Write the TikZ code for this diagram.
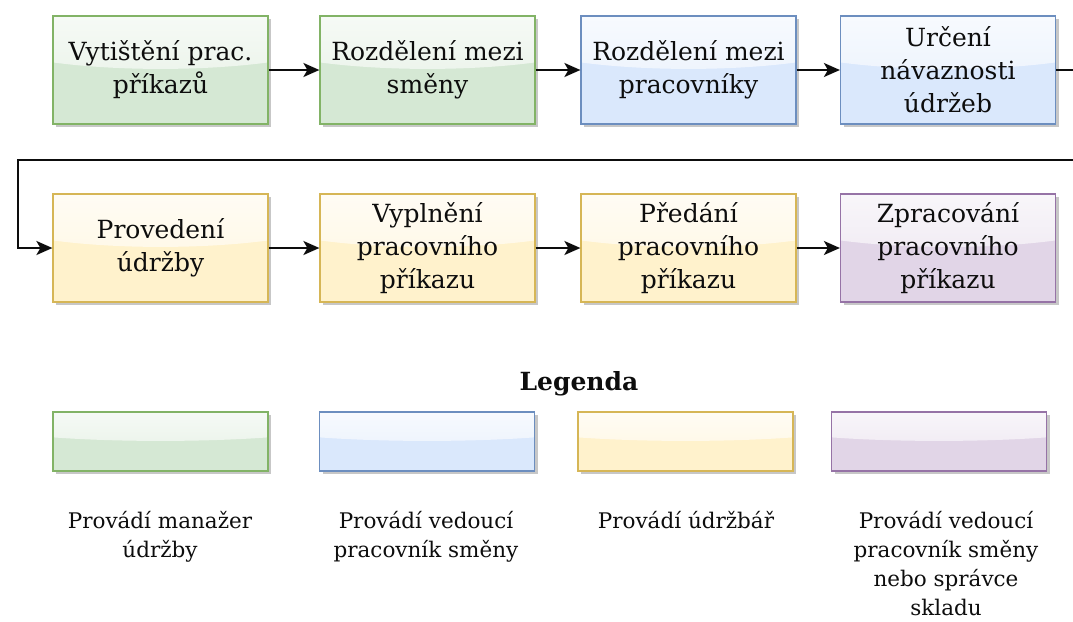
\documentclass[tikz,border=0pt]{standalone}
\usepackage{fontspec}
\newfontfamily\serifface{DejaVu Serif}
\usetikzlibrary{arrows.meta,shadows,fadings,calc}

\definecolor{greenFill}{HTML}{D5E8D4}\definecolor{greenLine}{HTML}{82B366}
\definecolor{blueFill}{HTML}{DAE8FC}\definecolor{blueLine}{HTML}{6C8EBF}
\definecolor{yellowFill}{HTML}{FFF2CC}\definecolor{yellowLine}{HTML}{D6B656}
\definecolor{purpleFill}{HTML}{E1D5E7}\definecolor{purpleLine}{HTML}{9673A6}
\definecolor{inkc}{HTML}{0D0D0D}

% white sheen over the upper part of every box
\tikzfading[name=glassfade, top color=transparent!20, bottom color=transparent!65]
\newcommand\glassoverlay{%
  \fill[white, path fading=glassfade]
    let \p1=(path picture bounding box.north west),
        \p2=(path picture bounding box.south east) in
    (\x1,\y1) -- (\x2,\y1) -- (\x2,{\y1+0.43*(\y2-\y1)})
    .. controls ({\x1+0.7*(\x2-\x1)},{\y1+0.51*(\y2-\y1)})
           and ({\x1+0.3*(\x2-\x1)},{\y1+0.51*(\y2-\y1)}) ..
    (\x1,{\y1+0.43*(\y2-\y1)}) -- cycle;}

\tikzset{
  glassbox/.style={draw=#1Line, fill=#1Fill, line width=1.2pt,
    minimum width=215pt, minimum height=108pt, inner sep=2pt,
    align=center, text=inkc,
    font=\serifface\fontsize{25}{33}\selectfont,
    drop shadow={shadow xshift=3pt, shadow yshift=-3pt, fill=black!22, opacity=1},
    path picture={\glassoverlay}},
  swatch/.style={glassbox=#1, minimum height=59pt},
  legtext/.style={anchor=north, inner sep=0pt, align=center, text=inkc,
    font=\serifface\fontsize{21.5}{29}\selectfont},
  flow/.style={line width=2pt, draw=inkc,
    -{Stealth[length=16pt,width=14pt,inset=4pt]}},
}

\begin{document}
\begin{tikzpicture}[x=1pt,y=-1pt]
\useasboundingbox (0,0) rectangle (1073,621);

% first row of steps
\node[glassbox=green]  (s1) at (160.5,70) {Vytištění prac.\\příkazů};
\node[glassbox=green]  (s2) at (427.5,70) {Rozdělení mezi\\směny};
\node[glassbox=blue]   (s3) at (688.5,70) {Rozdělení mezi\\pracovníky};
\node[glassbox=blue]   (s4) at (948,70)   {Určení\\návaznosti\\údržeb};

% second row of steps
\node[glassbox=yellow] (s5) at (160.5,248) {Provedení\\údržby};
\node[glassbox=yellow] (s6) at (427.5,248) {Vyplnění\\pracovního\\příkazu};
\node[glassbox=yellow] (s7) at (688.5,248) {Předání\\pracovního\\příkazu};
\node[glassbox=purple] (s8) at (948,248)   {Zpracování\\pracovního\\příkazu};

% connectors
\draw[flow] (s1) -- (s2);
\draw[flow] (s2) -- (s3);
\draw[flow] (s3) -- (s4);
\coordinate (wrapR) at (1088,160);
\coordinate (wrapL) at (18,160);
\draw[flow] (s4.east) -| (wrapR) -- (wrapL) |- (s5.west);
\draw[flow] (s5) -- (s6);
\draw[flow] (s6) -- (s7);
\draw[flow] (s7) -- (s8);

% legend
\node[anchor=base, inner sep=0pt, text=inkc,
      font=\serifface\fontsize{25}{29}\selectfont\bfseries] (leg) at (579,390) {Legenda};

\node[swatch=green]  (k1) at (160.5,441.5) {};
\node[swatch=blue]   (k2) at (427,441.5)   {};
\node[swatch=yellow] (k3) at (685.5,441.5) {};
\node[swatch=purple] (k4) at (939,441.5)   {};

\node[legtext] (d1) at (160,511) {Provádí manažer\\údržby};
\node[legtext] (d2) at (426,511) {Provádí vedoucí\\pracovník směny};
\node[legtext] (d3) at (686,511) {Provádí údržbář};
\node[legtext] (d4) at (946,511) {Provádí vedoucí\\pracovník směny\\nebo správce\\skladu};
\end{tikzpicture}
\end{document}
